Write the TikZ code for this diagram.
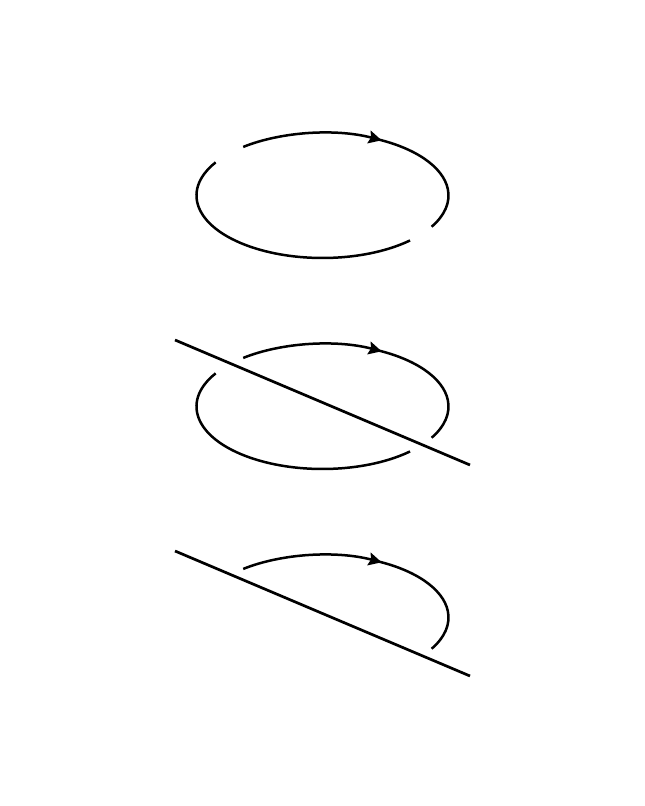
\documentclass[tikz,border=0pt]{standalone}
\usetikzlibrary{arrows.meta, calc}
\tikzstyle{loopline} = [line width=2.5pt, line cap=butt]
\tikzstyle{wire} = [line width=2.7pt]
\tikzstyle{arrow} = [-{Stealth[length=13pt,width=13pt,inset=2pt]}]
\begin{document}
\begin{tikzpicture}[x=1pt, y=1pt]
\useasboundingbox (0,0) rectangle (645,806);

% Centres
\coordinate (c1) at (322.5,610.5);
\coordinate (c2) at (322.5,399.5);
\coordinate (c3) at (322.5,188.5);

% Top loop
\draw [loopline] ($(c1)+(148:126pt and 62.5pt)$) arc[start angle=148, end angle=314, x radius=126pt, y radius=62.5pt];
\draw [loopline, arrow] ($(c1)+(129:126pt and 62.5pt)$) arc[start angle=129, end angle=62, x radius=126pt, y radius=62.5pt];
\draw [loopline] ($(c1)+(66:126pt and 62.5pt)$) arc[start angle=66, end angle=-30, x radius=126pt, y radius=62.5pt];

% Middle loop with wire
\draw [loopline] ($(c2)+(148:126pt and 62.5pt)$) arc[start angle=148, end angle=314, x radius=126pt, y radius=62.5pt];
\draw [loopline, arrow] ($(c2)+(129:126pt and 62.5pt)$) arc[start angle=129, end angle=62, x radius=126pt, y radius=62.5pt];
\draw [loopline] ($(c2)+(66:126pt and 62.5pt)$) arc[start angle=66, end angle=-30, x radius=126pt, y radius=62.5pt];
\coordinate (w2a) at (175,466);
\coordinate (w2b) at (470,341);
\draw [wire] (w2a) -- (w2b);

% Bottom half loop with wire
\draw [loopline, arrow] ($(c3)+(129:126pt and 62.5pt)$) arc[start angle=129, end angle=62, x radius=126pt, y radius=62.5pt];
\draw [loopline] ($(c3)+(66:126pt and 62.5pt)$) arc[start angle=66, end angle=-30, x radius=126pt, y radius=62.5pt];
\coordinate (w3a) at (175,255);
\coordinate (w3b) at (470,130);
\draw [wire] (w3a) -- (w3b);

\end{tikzpicture}
\end{document}
